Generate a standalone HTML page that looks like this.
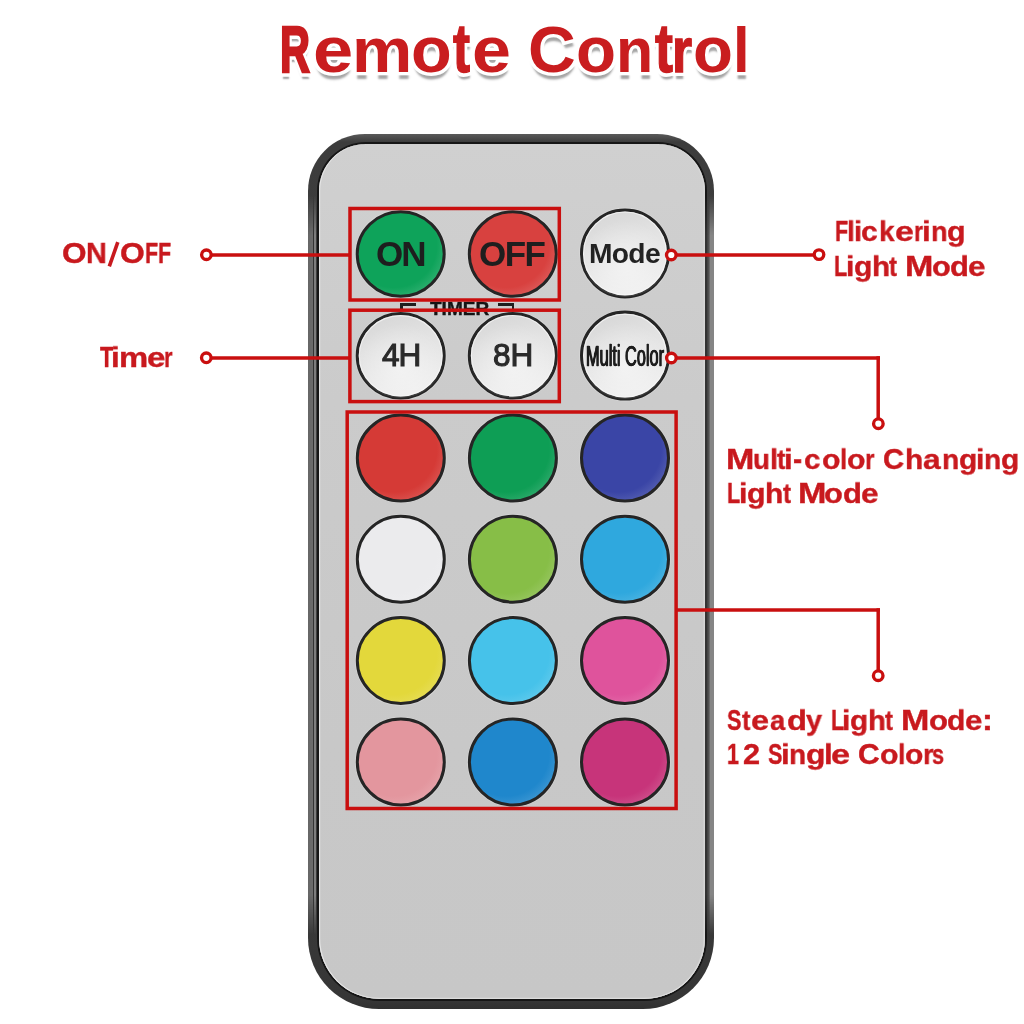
<!DOCTYPE html>
<html><head><meta charset="utf-8">
<style>
html,body{margin:0;padding:0;background:#fff;}
body{width:1024px;height:1024px;position:relative;overflow:hidden;font-family:"Liberation Sans",sans-serif;}
.a{position:absolute;}
.lay{position:absolute;left:0;top:0;}
.tl,.tls{position:absolute;font-weight:bold;font-size:66px;color:#c91d1f;white-space:nowrap;line-height:1;transform-origin:0 55.88px;}
.tls{color:#fff;-webkit-text-stroke:7px #fff;text-shadow:0.5px 7px 2.2px rgba(0,0,0,.36);}
.lbl{position:absolute;transform-origin:0 25.40px;font-weight:bold;-webkit-text-stroke:0.4px #c8191e;font-size:30px;color:#c8191e;white-space:nowrap;line-height:1;will-change:transform;}
#outer{left:308px;top:134px;width:406px;height:875px;border-radius:57px 57px 71px 71px;background:linear-gradient(#5a5a5a,#3c3c3c 8px,#404040 50%,#363636 calc(100% - 9px),#303030);}
#sideL{left:308.2px;top:195px;width:8.3px;height:740px;background:linear-gradient(90deg,#666 0,#6c6c6c 4.5px,#343434 4.9px,#343434 6.2px,#7e7e7e 6.5px,#7e7e7e 8.3px);-webkit-mask-image:linear-gradient(transparent,#000 40px,#000 calc(100% - 40px),transparent);}
#sideR{left:705px;top:195px;width:8.8px;height:740px;background:linear-gradient(90deg,#333 0,#333 2px,#444 2.2px,#444 3.4px,#666 3.7px,#6a6a6a 5px,#858585 5.4px,#858585 8.8px);-webkit-mask-image:linear-gradient(transparent,#000 40px,#000 calc(100% - 40px),transparent);}
#face{left:316.5px;top:142px;width:390.5px;height:859px;border-radius:49px 49px 63px 63px;background:#161616;}
#face2{left:318.5px;top:143.8px;width:386.5px;height:855.5px;border-radius:47px 47px 61px 61px;background:linear-gradient(#d0d0d0,#cbcbcb 30%,#c8c8c8 70%,#c7c7c7);box-shadow:inset 1.2px 0 0 #e4e4e4, inset 0 -1.2px 0 #dcdcdc, inset -1.5px 0 0 #d6d6d6;}
.bt{position:absolute;font-weight:bold;color:#222;white-space:nowrap;line-height:1;will-change:transform;}
</style></head>
<body>
<span class="tls" style="left:279.54px;top:15.52px;transform:scale(0.6293,0.987);-webkit-text-stroke:9.6px #fff;">R</span>
<span class="tls" style="left:312.78px;top:15.52px;transform:scale(1.0950,0.99);-webkit-text-stroke:7.0px #fff;">e</span>
<span class="tls" style="left:351.93px;top:15.52px;transform:scale(1.0270,0.94);-webkit-text-stroke:7.0px #fff;">m</span>
<span class="tls" style="left:411.00px;top:15.52px;transform:scale(1.0097,0.98);-webkit-text-stroke:7.0px #fff;">o</span>
<span class="tls" style="left:453.02px;top:15.52px;transform:scale(0.7764,1.05);-webkit-text-stroke:8.4px #fff;">t</span>
<span class="tls" style="left:472.17px;top:15.52px;transform:scale(1.0605,0.99);-webkit-text-stroke:7.0px #fff;">e</span>
<span class="tls" style="left:527.99px;top:15.52px;transform:scale(1.0011,0.98);-webkit-text-stroke:7.0px #fff;">C</span>
<span class="tls" style="left:576.44px;top:15.52px;transform:scale(0.9926,0.98);-webkit-text-stroke:7.0px #fff;">o</span>
<span class="tls" style="left:616.49px;top:15.52px;transform:scale(0.9224,0.95);-webkit-text-stroke:7.0px #fff;">n</span>
<span class="tls" style="left:654.51px;top:15.52px;transform:scale(0.8177,1.05);-webkit-text-stroke:8.4px #fff;">t</span>
<span class="tls" style="left:672.34px;top:15.52px;transform:scale(0.7822,0.95);-webkit-text-stroke:8.4px #fff;">r</span>
<span class="tls" style="left:693.15px;top:15.52px;transform:scale(0.9898,0.98);-webkit-text-stroke:7.0px #fff;">o</span>
<span class="tls" style="left:732.53px;top:15.52px;transform:scale(0.9055,0.958);-webkit-text-stroke:7.0px #fff;">l</span>
<span class="tl" style="left:279.54px;top:15.52px;transform:scale(0.6293,0.987);-webkit-text-stroke:2.6px #c91d1f;">R</span>
<span class="tl" style="left:312.78px;top:15.52px;transform:scale(1.0950,0.99);">e</span>
<span class="tl" style="left:351.93px;top:15.52px;transform:scale(1.0270,0.94);">m</span>
<span class="tl" style="left:411.00px;top:15.52px;transform:scale(1.0097,0.98);">o</span>
<span class="tl" style="left:453.02px;top:15.52px;transform:scale(0.7764,1.05);-webkit-text-stroke:1.4px #c91d1f;">t</span>
<span class="tl" style="left:472.17px;top:15.52px;transform:scale(1.0605,0.99);">e</span>
<span class="tl" style="left:527.99px;top:15.52px;transform:scale(1.0011,0.98);">C</span>
<span class="tl" style="left:576.44px;top:15.52px;transform:scale(0.9926,0.98);">o</span>
<span class="tl" style="left:616.49px;top:15.52px;transform:scale(0.9224,0.95);">n</span>
<span class="tl" style="left:654.51px;top:15.52px;transform:scale(0.8177,1.05);-webkit-text-stroke:1.4px #c91d1f;">t</span>
<span class="tl" style="left:672.34px;top:15.52px;transform:scale(0.7822,0.95);-webkit-text-stroke:1.4px #c91d1f;">r</span>
<span class="tl" style="left:693.15px;top:15.52px;transform:scale(0.9898,0.98);">o</span>
<span class="tl" style="left:732.53px;top:15.52px;transform:scale(0.9055,0.958);">l</span>
<div id="outer" class="a"></div>
<div id="face" class="a"></div>
<div id="sideL" class="a"></div>
<div id="sideR" class="a"></div>
<div id="face2" class="a"></div>
<svg class="lay" width="1024" height="1024" viewBox="0 0 1024 1024"><defs><linearGradient id="silver" x1="0" y1="0" x2="0.3" y2="1"><stop offset="0" stop-color="#d4d4d4"/><stop offset="0.45" stop-color="#e2e2e2"/><stop offset="1" stop-color="#eeeeee"/></linearGradient><radialGradient id="silverhl" cx="0.5" cy="0.62" r="0.5"><stop offset="0" stop-color="#fff" stop-opacity=".45"/><stop offset="1" stop-color="#fff" stop-opacity="0"/></radialGradient><radialGradient id="g1" cx="0.42" cy="0.4" r="0.62"><stop offset="0" stop-color="#0ea35a"/><stop offset="0.8" stop-color="#0ea35a"/><stop offset="1" stop-color="#2aae6d"/></radialGradient><radialGradient id="g2" cx="0.42" cy="0.4" r="0.62"><stop offset="0" stop-color="#d8413f"/><stop offset="0.8" stop-color="#d8413f"/><stop offset="1" stop-color="#dc5756"/></radialGradient><radialGradient id="g3" cx="0.42" cy="0.4" r="0.62"><stop offset="0" stop-color="#d53a36"/><stop offset="0.8" stop-color="#d53a36"/><stop offset="1" stop-color="#da514e"/></radialGradient><radialGradient id="g4" cx="0.42" cy="0.4" r="0.62"><stop offset="0" stop-color="#0e9e55"/><stop offset="0.8" stop-color="#0e9e55"/><stop offset="1" stop-color="#2aa969"/></radialGradient><radialGradient id="g5" cx="0.42" cy="0.4" r="0.62"><stop offset="0" stop-color="#3a45a6"/><stop offset="0.8" stop-color="#3a45a6"/><stop offset="1" stop-color="#515bb0"/></radialGradient><radialGradient id="g6" cx="0.42" cy="0.4" r="0.62"><stop offset="0" stop-color="#ebebed"/><stop offset="0.8" stop-color="#ebebed"/><stop offset="1" stop-color="#ededef"/></radialGradient><radialGradient id="g7" cx="0.42" cy="0.4" r="0.62"><stop offset="0" stop-color="#87be47"/><stop offset="0.8" stop-color="#87be47"/><stop offset="1" stop-color="#95c55d"/></radialGradient><radialGradient id="g8" cx="0.42" cy="0.4" r="0.62"><stop offset="0" stop-color="#2fa8de"/><stop offset="0.8" stop-color="#2fa8de"/><stop offset="1" stop-color="#47b2e1"/></radialGradient><radialGradient id="g9" cx="0.42" cy="0.4" r="0.62"><stop offset="0" stop-color="#e3d83b"/><stop offset="0.8" stop-color="#e3d83b"/><stop offset="1" stop-color="#e6dc52"/></radialGradient><radialGradient id="g10" cx="0.42" cy="0.4" r="0.62"><stop offset="0" stop-color="#46c2ea"/><stop offset="0.8" stop-color="#46c2ea"/><stop offset="1" stop-color="#5cc9ec"/></radialGradient><radialGradient id="g11" cx="0.42" cy="0.4" r="0.62"><stop offset="0" stop-color="#df539c"/><stop offset="0.8" stop-color="#df539c"/><stop offset="1" stop-color="#e267a7"/></radialGradient><radialGradient id="g12" cx="0.42" cy="0.4" r="0.62"><stop offset="0" stop-color="#e3969e"/><stop offset="0.8" stop-color="#e3969e"/><stop offset="1" stop-color="#e6a2a9"/></radialGradient><radialGradient id="g13" cx="0.42" cy="0.4" r="0.62"><stop offset="0" stop-color="#1f87cc"/><stop offset="0.8" stop-color="#1f87cc"/><stop offset="1" stop-color="#3995d2"/></radialGradient><radialGradient id="g14" cx="0.42" cy="0.4" r="0.62"><stop offset="0" stop-color="#c7347a"/><stop offset="0.8" stop-color="#c7347a"/><stop offset="1" stop-color="#cd4c89"/></radialGradient></defs><ellipse cx="400.7" cy="254.0" rx="45.8" ry="44.55" fill="#e2e2e2" opacity=".5"/><ellipse cx="400.7" cy="254.0" rx="43.5" ry="42.25" fill="url(#g1)" stroke="#252525" stroke-width="3.0"/><ellipse cx="512.8" cy="254.0" rx="45.8" ry="44.55" fill="#e2e2e2" opacity=".5"/><ellipse cx="512.8" cy="254.0" rx="43.5" ry="42.25" fill="url(#g2)" stroke="#252525" stroke-width="3.0"/><ellipse cx="625.0" cy="253.4" rx="45.8" ry="45.8" fill="#e2e2e2" opacity=".5"/><ellipse cx="625.0" cy="253.4" rx="43.5" ry="43.5" fill="url(#silver)" stroke="#252525" stroke-width="3.0"/><ellipse cx="625.0" cy="253.4" rx="43.5" ry="43.5" fill="url(#silverhl)"/><ellipse cx="625.0" cy="253.4" rx="41.4" ry="41.4" fill="none" stroke="#fafafa" stroke-opacity=".7" stroke-width="1.1"/><ellipse cx="400.7" cy="355.8" rx="45.8" ry="44.55" fill="#e2e2e2" opacity=".5"/><ellipse cx="400.7" cy="355.8" rx="43.5" ry="42.25" fill="url(#silver)" stroke="#252525" stroke-width="3.0"/><ellipse cx="400.7" cy="355.8" rx="43.5" ry="42.25" fill="url(#silverhl)"/><ellipse cx="400.7" cy="355.8" rx="41.4" ry="40.15" fill="none" stroke="#fafafa" stroke-opacity=".7" stroke-width="1.1"/><ellipse cx="512.8" cy="355.7" rx="45.8" ry="44.55" fill="#e2e2e2" opacity=".5"/><ellipse cx="512.8" cy="355.7" rx="43.5" ry="42.25" fill="url(#silver)" stroke="#252525" stroke-width="3.0"/><ellipse cx="512.8" cy="355.7" rx="43.5" ry="42.25" fill="url(#silverhl)"/><ellipse cx="512.8" cy="355.7" rx="41.4" ry="40.15" fill="none" stroke="#fafafa" stroke-opacity=".7" stroke-width="1.1"/><ellipse cx="625.0" cy="355.6" rx="45.8" ry="45.8" fill="#e2e2e2" opacity=".5"/><ellipse cx="625.0" cy="355.6" rx="43.5" ry="43.5" fill="url(#silver)" stroke="#252525" stroke-width="3.0"/><ellipse cx="625.0" cy="355.6" rx="43.5" ry="43.5" fill="url(#silverhl)"/><ellipse cx="625.0" cy="355.6" rx="41.4" ry="41.4" fill="none" stroke="#fafafa" stroke-opacity=".7" stroke-width="1.1"/><ellipse cx="400.8" cy="458.0" rx="45.8" ry="45.3" fill="#e2e2e2" opacity=".5"/><ellipse cx="400.8" cy="458.0" rx="43.5" ry="43.0" fill="url(#g3)" stroke="#252525" stroke-width="3.0"/><ellipse cx="512.9" cy="458.0" rx="45.8" ry="45.3" fill="#e2e2e2" opacity=".5"/><ellipse cx="512.9" cy="458.0" rx="43.5" ry="43.0" fill="url(#g4)" stroke="#252525" stroke-width="3.0"/><ellipse cx="625.0" cy="458.0" rx="45.8" ry="45.3" fill="#e2e2e2" opacity=".5"/><ellipse cx="625.0" cy="458.0" rx="43.5" ry="43.0" fill="url(#g5)" stroke="#252525" stroke-width="3.0"/><ellipse cx="400.8" cy="559.2" rx="45.8" ry="45.3" fill="#e2e2e2" opacity=".5"/><ellipse cx="400.8" cy="559.2" rx="43.5" ry="43.0" fill="url(#g6)" stroke="#252525" stroke-width="3.0"/><ellipse cx="512.9" cy="559.2" rx="45.8" ry="45.3" fill="#e2e2e2" opacity=".5"/><ellipse cx="512.9" cy="559.2" rx="43.5" ry="43.0" fill="url(#g7)" stroke="#252525" stroke-width="3.0"/><ellipse cx="625.0" cy="559.2" rx="45.8" ry="45.3" fill="#e2e2e2" opacity=".5"/><ellipse cx="625.0" cy="559.2" rx="43.5" ry="43.0" fill="url(#g8)" stroke="#252525" stroke-width="3.0"/><ellipse cx="400.8" cy="660.6" rx="45.8" ry="45.3" fill="#e2e2e2" opacity=".5"/><ellipse cx="400.8" cy="660.6" rx="43.5" ry="43.0" fill="url(#g9)" stroke="#252525" stroke-width="3.0"/><ellipse cx="512.9" cy="660.6" rx="45.8" ry="45.3" fill="#e2e2e2" opacity=".5"/><ellipse cx="512.9" cy="660.6" rx="43.5" ry="43.0" fill="url(#g10)" stroke="#252525" stroke-width="3.0"/><ellipse cx="625.0" cy="660.6" rx="45.8" ry="45.3" fill="#e2e2e2" opacity=".5"/><ellipse cx="625.0" cy="660.6" rx="43.5" ry="43.0" fill="url(#g11)" stroke="#252525" stroke-width="3.0"/><ellipse cx="400.8" cy="762.0" rx="45.8" ry="45.3" fill="#e2e2e2" opacity=".5"/><ellipse cx="400.8" cy="762.0" rx="43.5" ry="43.0" fill="url(#g12)" stroke="#252525" stroke-width="3.0"/><ellipse cx="512.9" cy="762.0" rx="45.8" ry="45.3" fill="#e2e2e2" opacity=".5"/><ellipse cx="512.9" cy="762.0" rx="43.5" ry="43.0" fill="url(#g13)" stroke="#252525" stroke-width="3.0"/><ellipse cx="625.0" cy="762.0" rx="45.8" ry="45.3" fill="#e2e2e2" opacity=".5"/><ellipse cx="625.0" cy="762.0" rx="43.5" ry="43.0" fill="url(#g14)" stroke="#252525" stroke-width="3.0"/></svg>
<div style="position:absolute;left:400px;top:303px;width:16px;height:2.5px;background:#1e1e1e;"></div>
<div style="position:absolute;left:400px;top:303px;width:2.5px;height:8px;background:#1e1e1e;"></div>
<div style="position:absolute;left:498px;top:303px;width:16px;height:2.5px;background:#1e1e1e;"></div>
<div style="position:absolute;left:511.5px;top:303px;width:2.5px;height:8px;background:#1e1e1e;"></div>
<div class="bt" style="left:430.30px;top:299.21px;font-size:19px;font-weight:bold;color:#151515;letter-spacing:-0.000px;-webkit-text-stroke:0.4px #151515;">TIMER</div>
<div class="bt" style="left:375.90px;top:235.97px;font-size:35px;font-weight:bold;color:#1e1e1e;letter-spacing:-2.000px;">ON</div>
<div class="bt" style="left:478.50px;top:235.67px;font-size:35px;font-weight:bold;color:#1e1e1e;letter-spacing:-1.500px;">OFF</div>
<div class="bt" style="left:589.00px;top:239.22px;font-size:28.2px;font-weight:bold;color:#222;letter-spacing:-0.667px;">Mode</div>
<div class="bt" style="left:381.60px;top:339.83px;font-size:31.5px;font-weight:normal;color:#2a2a2a;letter-spacing:-1.000px;-webkit-text-stroke:1.1px #2a2a2a;">4H</div>
<div class="bt" style="left:493.40px;top:340.03px;font-size:31.5px;font-weight:normal;color:#2a2a2a;letter-spacing:0.000px;-webkit-text-stroke:1.1px #2a2a2a;">8H</div>
<div class="bt" style="left:586.30px;top:341.47px;font-size:29.8px;font-weight:normal;color:#1e1e1e;letter-spacing:0.000px;-webkit-text-stroke:0.4px #1e1e1e;transform:scaleX(0.5479);transform-origin:0 0;text-shadow:0.9px 0 0 #1e1e1e,-0.9px 0 0 #1e1e1e;">Multi Color</div>
<svg class="lay" width="1024" height="1024" viewBox="0 0 1024 1024"><rect x="350.0" y="208.5" width="209.30" height="91.50" fill="none" stroke="#c90f0f" stroke-width="3.5"/><rect x="349.9" y="310.2" width="209.40" height="91.40" fill="none" stroke="#c90f0f" stroke-width="3.5"/><rect x="347.2" y="412.0" width="328.90" height="396.50" fill="none" stroke="#c90f0f" stroke-width="3.5"/><line x1="206.4" y1="254.9" x2="350" y2="254.9" stroke="#c90f0f" stroke-width="3.5"/><line x1="206.3" y1="358.0" x2="350" y2="358.0" stroke="#c90f0f" stroke-width="3.5"/><line x1="671.3" y1="254.9" x2="819" y2="254.9" stroke="#c90f0f" stroke-width="3.5"/><line x1="671.3" y1="357.95" x2="879.95" y2="357.95" stroke="#c90f0f" stroke-width="3.5"/><line x1="878.2" y1="356.2" x2="878.2" y2="423.7" stroke="#c90f0f" stroke-width="3.5"/><line x1="676.1" y1="610.0" x2="879.95" y2="610.0" stroke="#c90f0f" stroke-width="3.5"/><line x1="878.2" y1="608.25" x2="878.2" y2="675.7" stroke="#c90f0f" stroke-width="3.5"/><circle cx="206.4" cy="254.75" r="4.78" fill="#fff" stroke="#c90f0f" stroke-width="3.35"/><circle cx="206.3" cy="357.8" r="4.78" fill="#fff" stroke="#c90f0f" stroke-width="3.35"/><circle cx="671.3" cy="255.0" r="4.78" fill="#fff" stroke="#c90f0f" stroke-width="3.35"/><circle cx="819.0" cy="254.6" r="4.78" fill="#fff" stroke="#c90f0f" stroke-width="3.35"/><circle cx="671.4" cy="358.0" r="4.78" fill="#fff" stroke="#c90f0f" stroke-width="3.35"/><circle cx="878.35" cy="423.7" r="4.78" fill="#fff" stroke="#c90f0f" stroke-width="3.35"/><circle cx="878.2" cy="675.7" r="4.78" fill="#fff" stroke="#c90f0f" stroke-width="3.35"/></svg>
<span class="lbl" style="left:62.31px;top:238.10px;transform:scale(1.0506,1.0);">O</span>
<span class="lbl" style="left:86.37px;top:238.10px;transform:scale(0.9639,1.0);">N</span>
<svg class="lay" width="1024" height="1024"><line x1="109.3" y1="266.4" x2="117.8" y2="242.2" stroke="#c8191e" stroke-width="3.6"/></svg>
<span class="lbl" style="left:120.40px;top:238.10px;transform:scale(1.0602,1.0);">O</span>
<span class="lbl" style="left:145.13px;top:238.10px;transform:scale(0.7200,1.0);">F</span>
<span class="lbl" style="left:158.13px;top:238.10px;transform:scale(0.7200,1.0);">F</span>
<span class="lbl" style="left:99.75px;top:341.60px;transform:scale(0.7200,1.0);">T</span>
<span class="lbl" style="left:111.01px;top:341.60px;transform:scale(1.0447,0.94);">i</span>
<span class="lbl" style="left:118.84px;top:341.60px;transform:scale(1.0947,0.94);">m</span>
<span class="lbl" style="left:146.71px;top:341.60px;transform:scale(1.1044,0.94);">e</span>
<span class="lbl" style="left:164.30px;top:341.60px;transform:scale(0.7200,0.94);">r</span>
<span class="lbl" style="left:834.73px;top:216.35px;transform:scale(0.7200,1.0);">F</span>
<span class="lbl" style="left:847.37px;top:216.35px;transform:scale(0.9232,0.94);">l</span>
<span class="lbl" style="left:854.02px;top:216.35px;transform:scale(0.9475,0.94);">i</span>
<span class="lbl" style="left:861.42px;top:216.35px;transform:scale(1.0045,0.94);">c</span>
<span class="lbl" style="left:879.25px;top:216.35px;transform:scale(0.9303,0.94);">k</span>
<span class="lbl" style="left:895.17px;top:216.35px;transform:scale(1.1320,0.94);">e</span>
<span class="lbl" style="left:914.08px;top:216.35px;transform:scale(0.7681,0.94);">r</span>
<span class="lbl" style="left:922.21px;top:216.35px;transform:scale(1.0447,0.94);">i</span>
<span class="lbl" style="left:930.81px;top:216.35px;transform:scale(0.9042,0.94);">n</span>
<span class="lbl" style="left:947.15px;top:216.35px;transform:scale(1.0141,0.94);">g</span>
<span class="lbl" style="left:834.41px;top:250.60px;transform:scale(0.7200,1.0);">L</span>
<span class="lbl" style="left:845.81px;top:250.60px;transform:scale(0.9961,0.94);">i</span>
<span class="lbl" style="left:853.77px;top:250.60px;transform:scale(1.0008,0.94);">g</span>
<span class="lbl" style="left:871.53px;top:250.60px;transform:scale(0.9882,0.94);">h</span>
<span class="lbl" style="left:889.11px;top:250.60px;transform:scale(0.7993,0.94);">t</span>
<span class="lbl" style="left:904.62px;top:250.60px;transform:scale(1.1346,1.0);">M</span>
<span class="lbl" style="left:931.50px;top:250.60px;transform:scale(1.0262,0.94);">o</span>
<span class="lbl" style="left:950.33px;top:250.60px;transform:scale(1.0319,0.94);">d</span>
<span class="lbl" style="left:968.37px;top:250.60px;transform:scale(1.0492,0.94);">e</span>
<span class="lbl" style="left:725.72px;top:443.50px;transform:scale(1.1346,1.0);">M</span>
<span class="lbl" style="left:753.19px;top:443.50px;transform:scale(0.9180,0.94);">u</span>
<span class="lbl" style="left:769.72px;top:443.50px;transform:scale(0.9475,0.94);">l</span>
<span class="lbl" style="left:776.89px;top:443.50px;transform:scale(0.8425,0.94);">t</span>
<span class="lbl" style="left:784.31px;top:443.50px;transform:scale(1.0447,0.94);">i</span>
<span class="lbl" style="left:793.32px;top:443.50px;transform:scale(0.9190,1.0);">-</span>
<span class="lbl" style="left:804.35px;top:443.50px;transform:scale(0.9840,0.94);">c</span>
<span class="lbl" style="left:822.22px;top:443.50px;transform:scale(1.0074,0.94);">o</span>
<span class="lbl" style="left:840.42px;top:443.50px;transform:scale(0.8503,0.94);">l</span>
<span class="lbl" style="left:847.22px;top:443.50px;transform:scale(1.0074,0.94);">o</span>
<span class="lbl" style="left:864.82px;top:443.50px;transform:scale(0.8006,0.94);">r</span>
<span class="lbl" style="left:882.90px;top:443.50px;transform:scale(0.9738,1.0);">C</span>
<span class="lbl" style="left:904.62px;top:443.50px;transform:scale(0.9951,0.94);">h</span>
<span class="lbl" style="left:922.87px;top:443.50px;transform:scale(1.0628,0.94);">a</span>
<span class="lbl" style="left:942.44px;top:443.50px;transform:scale(0.9388,0.94);">n</span>
<span class="lbl" style="left:959.48px;top:443.50px;transform:scale(0.9942,0.94);">g</span>
<span class="lbl" style="left:975.71px;top:443.50px;transform:scale(0.9961,0.94);">i</span>
<span class="lbl" style="left:984.14px;top:443.50px;transform:scale(0.9388,0.94);">n</span>
<span class="lbl" style="left:1001.18px;top:443.50px;transform:scale(0.9942,0.94);">g</span>
<span class="lbl" style="left:727.37px;top:477.50px;transform:scale(0.7200,1.0);">L</span>
<span class="lbl" style="left:738.82px;top:477.50px;transform:scale(1.0076,0.94);">i</span>
<span class="lbl" style="left:746.87px;top:477.50px;transform:scale(1.0124,0.94);">g</span>
<span class="lbl" style="left:764.84px;top:477.50px;transform:scale(0.9997,0.94);">h</span>
<span class="lbl" style="left:782.62px;top:477.50px;transform:scale(0.8086,0.94);">t</span>
<span class="lbl" style="left:797.52px;top:477.50px;transform:scale(1.1375,1.0);">M</span>
<span class="lbl" style="left:824.46px;top:477.50px;transform:scale(1.0288,0.94);">o</span>
<span class="lbl" style="left:843.34px;top:477.50px;transform:scale(1.0346,0.94);">d</span>
<span class="lbl" style="left:861.43px;top:477.50px;transform:scale(1.0519,0.94);">e</span>
<span class="lbl" style="left:726.91px;top:705.00px;transform:scale(0.7200,1.0);">S</span>
<span class="lbl" style="left:742.29px;top:705.00px;transform:scale(0.8425,0.94);">t</span>
<span class="lbl" style="left:751.03px;top:705.00px;transform:scale(1.0837,0.94);">e</span>
<span class="lbl" style="left:770.10px;top:705.00px;transform:scale(0.9127,0.94);">a</span>
<span class="lbl" style="left:787.16px;top:705.00px;transform:scale(1.0915,0.94);">d</span>
<span class="lbl" style="left:806.28px;top:705.00px;transform:scale(0.9577,0.94);">y</span>
<span class="lbl" style="left:831.14px;top:705.00px;transform:scale(0.7200,1.0);">L</span>
<span class="lbl" style="left:842.48px;top:705.00px;transform:scale(0.9812,0.94);">i</span>
<span class="lbl" style="left:850.31px;top:705.00px;transform:scale(0.9858,0.94);">g</span>
<span class="lbl" style="left:867.81px;top:705.00px;transform:scale(0.9734,0.94);">h</span>
<span class="lbl" style="left:885.12px;top:705.00px;transform:scale(0.7874,0.94);">t</span>
<span class="lbl" style="left:901.42px;top:705.00px;transform:scale(1.1346,1.0);">M</span>
<span class="lbl" style="left:928.58px;top:705.00px;transform:scale(1.0387,0.94);">o</span>
<span class="lbl" style="left:947.47px;top:705.00px;transform:scale(0.9989,0.94);">d</span>
<span class="lbl" style="left:965.38px;top:705.00px;transform:scale(1.0423,0.94);">e</span>
<span class="lbl" style="left:981.75px;top:705.00px;transform:scale(1.0904,1.0);">:</span>
<span class="lbl" style="left:727.31px;top:739.20px;transform:scale(0.7200,1.0);">1</span>
<span class="lbl" style="left:742.73px;top:739.20px;transform:scale(1.0247,1.0);">2</span>
<span class="lbl" style="left:767.86px;top:739.20px;transform:scale(0.7200,1.0);">S</span>
<span class="lbl" style="left:781.01px;top:739.20px;transform:scale(1.0447,0.94);">i</span>
<span class="lbl" style="left:789.36px;top:739.20px;transform:scale(0.9319,0.94);">n</span>
<span class="lbl" style="left:805.90px;top:739.20px;transform:scale(1.0605,0.94);">g</span>
<span class="lbl" style="left:823.51px;top:739.20px;transform:scale(1.0447,0.94);">l</span>
<span class="lbl" style="left:831.06px;top:739.20px;transform:scale(1.1458,0.94);">e</span>
<span class="lbl" style="left:857.69px;top:739.20px;transform:scale(0.9840,1.0);">C</span>
<span class="lbl" style="left:879.72px;top:739.20px;transform:scale(1.0074,0.94);">o</span>
<span class="lbl" style="left:897.97px;top:739.20px;transform:scale(0.8746,0.94);">l</span>
<span class="lbl" style="left:905.03px;top:739.20px;transform:scale(1.0012,0.94);">o</span>
<span class="lbl" style="left:922.72px;top:739.20px;transform:scale(0.8980,0.94);">r</span>
<span class="lbl" style="left:932.16px;top:739.20px;transform:scale(0.7200,0.94);">s</span>
</body></html>
